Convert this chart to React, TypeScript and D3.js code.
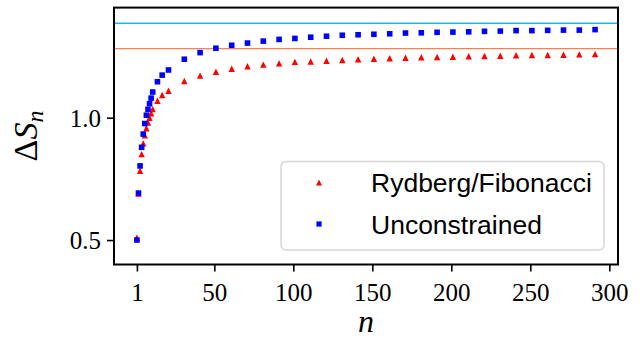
import React, { useEffect, useRef } from "react";
import * as d3 from "d3";

// n values sampled in the plot
const nValues = [1, 2, 3, 4, 5, 6, 7, 8, 9, 10, 11, 14, 17, 21, 31, 41, 51, 61, 71, 81, 91, 101, 111, 121, 131, 141, 151, 161, 171, 181, 191, 201, 211, 221, 231, 241, 251, 261, 271, 281, 291];

// Delta S_n for the Rydberg/Fibonacci chain
const rydbergValues = [0.51, 0.69, 0.783, 0.851, 0.895, 0.928, 0.957, 0.98, 1.0, 1.018, 1.035, 1.069, 1.093, 1.11, 1.15, 1.172, 1.188, 1.2, 1.21, 1.217, 1.222, 1.228, 1.23, 1.233, 1.236, 1.239, 1.241, 1.243, 1.245, 1.247, 1.248, 1.249, 1.251, 1.252, 1.253, 1.255, 1.256, 1.256, 1.257, 1.259, 1.26];

// Delta S_n for the unconstrained chain
const unconstrainedValues = [0.5, 0.692, 0.803, 0.879, 0.933, 0.976, 1.01, 1.034, 1.057, 1.08, 1.105, 1.147, 1.174, 1.195, 1.239, 1.266, 1.284, 1.296, 1.305, 1.313, 1.32, 1.324, 1.329, 1.333, 1.337, 1.339, 1.341, 1.343, 1.346, 1.347, 1.349, 1.35, 1.351, 1.353, 1.354, 1.356, 1.356, 1.357, 1.358, 1.358, 1.36];

// asymptotic limits (horizontal lines)
const unconstrainedLimit = 1.386;
const rydbergLimit = 1.282;

const xTicks = [1, 50, 100, 150, 200, 250, 300];
const yTicks = [0.5, 1.0];
const legendLabels = ["Rydberg/Fibonacci", "Unconstrained"];

const W = 641;
const H = 348;

const trianglePath = (h: number) => `M0,${-h}L${h},${h}L${-h},${h}Z`;
const squarePath = (h: number) => `M${-h},${-h}H${h}V${h}H${-h}Z`;

const App = () => {
  const svgRef = useRef<SVGSVGElement>(null);

  useEffect(() => {
    const svg = d3.select(svgRef.current);
    svg.selectAll("*").remove();

    const left = 114, right = 618, top = 7.6, bottom = 264.5;

    const x = d3.scaleLinear().domain([-13.5, 305.5]).range([left, right]);
    const y = d3.scaleLinear().domain([0.4, 1.45]).range([bottom, top]);

    const serif = "'Liberation Serif', 'DejaVu Serif', serif";
    const sans = "'Liberation Sans', Arial, sans-serif";

    // limit lines
    svg.append("line")
      .attr("x1", left).attr("x2", right)
      .attr("y1", y(unconstrainedLimit)).attr("y2", y(unconstrainedLimit))
      .attr("stroke", "#1fb8e6").attr("stroke-width", 1.3);
    svg.append("line")
      .attr("x1", left).attr("x2", right)
      .attr("y1", y(rydbergLimit)).attr("y2", y(rydbergLimit))
      .attr("stroke", "#ff7f50").attr("stroke-width", 1.3);

    // red triangles
    svg.append("g").selectAll("path")
      .data(nValues.map((n, i) => ({ n, v: rydbergValues[i] })))
      .enter().append("path")
      .attr("d", trianglePath(3.2))
      .attr("transform", d => `translate(${x(d.n)},${y(d.v)})`)
      .attr("fill", "#ff0000");

    // blue squares
    svg.append("g").selectAll("path")
      .data(nValues.map((n, i) => ({ n, v: unconstrainedValues[i] })))
      .enter().append("path")
      .attr("d", squarePath(2.8))
      .attr("transform", d => `translate(${x(d.n)},${y(d.v)})`)
      .attr("fill", "#0000ff");

    // axes
    const xAxis = svg.append("g")
      .attr("transform", `translate(0,${bottom})`)
      .call(d3.axisBottom(x).tickValues(xTicks).tickSize(7).tickPadding(6).tickFormat(d3.format("d")));
    const yAxis = svg.append("g")
      .attr("transform", `translate(${left},0)`)
      .call(d3.axisLeft(y).tickValues(yTicks).tickSize(7).tickPadding(6).tickFormat(d3.format(".1f")));

    [xAxis, yAxis].forEach(ax => {
      ax.select(".domain").remove();
      ax.selectAll(".tick line").attr("stroke", "#000").attr("stroke-width", 1.6);
      ax.selectAll(".tick text")
        .attr("fill", "#000")
        .style("font-family", serif)
        .style("font-size", "25px");
    });
    xAxis.selectAll(".tick text").attr("dy", "0.95em");
    yAxis.selectAll(".tick text").attr("dy", "0.34em");

    // frame
    svg.append("rect")
      .attr("x", left).attr("y", top)
      .attr("width", right - left).attr("height", bottom - top)
      .attr("fill", "none").attr("stroke", "#000").attr("stroke-width", 2);

    // axis labels
    svg.append("text")
      .attr("x", (left + right) / 2).attr("y", 332)
      .attr("text-anchor", "middle")
      .style("font-family", serif).style("font-size", "32px").style("font-style", "italic")
      .text("n");

    const yl = svg.append("text")
      .attr("transform", `translate(37,${(top + bottom) / 2}) rotate(-90)`)
      .attr("text-anchor", "middle")
      .style("font-family", serif).style("font-size", "34px");
    yl.append("tspan").text("Δ");
    yl.append("tspan").style("font-style", "italic").text("S");
    yl.append("tspan").attr("dy", 6).style("font-size", "24px").style("font-style", "italic").text("n");

    // legend
    const legend = svg.append("g");
    legend.append("rect")
      .attr("x", 281).attr("y", 161.5).attr("width", 323).attr("height", 88.5)
      .attr("rx", 5).attr("fill", "#fff").attr("fill-opacity", 0.8)
      .attr("stroke", "#d6d6d6").attr("stroke-width", 1.5);
    const legendRows = [
      { label: legendLabels[0], shape: trianglePath(3), color: "#ff0000", cy: 182.5 },
      { label: legendLabels[1], shape: squarePath(2.6), color: "#0000ff", cy: 224 }
    ];
    legendRows.forEach(r => {
      legend.append("path").attr("d", r.shape)
        .attr("transform", `translate(319,${r.cy})`).attr("fill", r.color);
      legend.append("text")
        .attr("x", 371).attr("y", r.cy + 9.5)
        .style("font-family", sans).style("font-size", "26.5px")
        .attr("fill", "#000")
        .text(r.label);
    });
  }, []);

  return (
    <svg ref={svgRef} width={W} height={H}
      style={{ position: "absolute", left: 0, top: 0, background: "#fff" }} />
  );
};

export default App;
